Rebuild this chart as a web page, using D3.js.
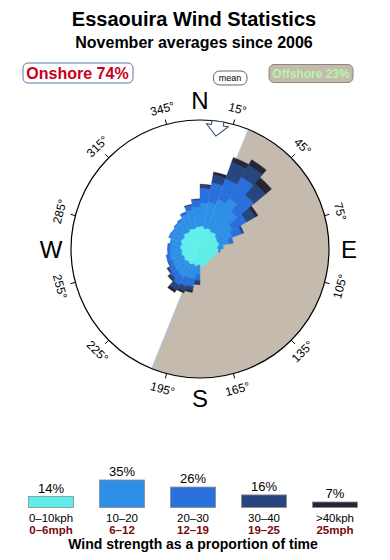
<!DOCTYPE html>
<html>
<head>
<meta charset="utf-8">
<script src="https://cdn.jsdelivr.net/npm/d3@7"></script>
<style>
  body { margin: 0; background: #fff; }
  svg { display: block; font-family: "Liberation Sans", Arial, Helvetica, sans-serif; }
</style>
</head>
<body>
<svg id="chart" width="390" height="560"></svg>
<script>
// Direction bins (centre bearing, degrees) and % of time per speed class
const directions = [5, 15, 25, 35, 45, 55, 65, 75, 85, 95, 105, 115, 125, 135, 145, 155, 165, 175,
    185, 195, 205, 215, 225, 235, 245, 255, 265, 275, 285, 295, 305, 315, 325, 335, 345, 355];
const speed0to10 = [0.70, 0.58, 0.64, 0.55, 0.60, 0.50, 0.47, 0.50, 0.42, 0.45, 0.33, 0.36, 0.28, 0.31, 0.27, 0.34, 0.36, 0.40,
    0.34, 0.40, 0.36, 0.42, 0.38, 0.45, 0.40, 0.47, 0.44, 0.52, 0.48, 0.55, 0.50, 0.60, 0.54, 0.62, 0.58, 0.66];
const speed10to20 = [2.08, 2.38, 3.03, 3.90, 2.50, 1.38, 1.09, 0.66, 0.29, 0.10, 0, 0, 0, 0, 0, 0, 0, 0,
    0.51, 0.80, 0.88, 0.96, 0.88, 0.75, 0.75, 0.75, 0.71, 0.63, 0.66, 0.82, 0.82, 0.85, 0.94, 1.16, 1.46, 1.68];
const speed20to30 = [2.06, 2.99, 3.64, 4.62, 3.41, 1.93, 1.05, 0.34, 0, 0, 0, 0, 0, 0, 0, 0, 0, 0,
    0.45, 0.72, 0.84, 0.87, 0.64, 0.52, 0.34, 0.34, 0.25, 0.24, 0.08, 0.09, 0.09, 0.09, 0.18, 0.30, 0.56, 0.83];
const speed30to40 = [0.49, 1.49, 3.92, 3.31, 3.05, 1.55, 0.24, 0, 0, 0, 0, 0, 0, 0, 0, 0, 0, 0,
    0.27, 0.42, 0.56, 0.69, 0.31, 0.20, 0.09, 0, 0, 0, 0, 0, 0, 0, 0, 0, 0.12, 0.13];
const speed40plus = [0.17, 0.60, 1.24, 1.57, 1.87, 0.51, 0, 0, 0, 0, 0, 0, 0, 0, 0, 0, 0, 0,
    0.09, 0.22, 0.24, 0.38, 0.11, 0, 0, 0, 0, 0, 0, 0, 0, 0, 0, 0, 0, 0];

const speedColors = ['#5eefeb', '#2e8fe7', '#2a70dc', '#27467f', '#232638'];
const legendPct = [14, 35, 26, 16, 7];
const kphLabels = ['0–10kph', '10–20', '20–30', '30–40', '>40kph'];
const mphLabels = ['0–6mph', '6–12', '12–19', '19–25', '25mph'];
const tickBearings = [15, 45, 75, 105, 135, 165, 195, 225, 255, 285, 315, 345];
const cardinals = [['N', 0], ['E', 90], ['S', 180], ['W', 270]];
const offshoreFrom = 22, offshoreTo = 202, meanBearing = 8;
const onshorePct = 74, offshorePct = 23;

const svg = d3.select('#chart');
const cx = 200, cy = 249, R = 129;
const rad = d => d * Math.PI / 180;

// Titles
svg.append('text').attr('x', 194).attr('y', 26).attr('text-anchor', 'middle')
    .style('font-size', '20px').style('font-weight', 'bold').text('Essaouira Wind Statistics');
svg.append('text').attr('x', 194).attr('y', 47.5).attr('text-anchor', 'middle')
    .style('font-size', '16px').style('font-weight', 'bold').text('November averages since 2006');

// Onshore / mean / offshore boxes
svg.append('rect').attr('x', 23).attr('y', 63).attr('width', 110).attr('height', 20).attr('rx', 5)
    .style('fill', '#fff').style('stroke', '#5a78a8');
svg.append('text').attr('x', 77.5).attr('y', 79).attr('text-anchor', 'middle')
    .style('font-size', '16px').style('font-weight', 'bold').style('fill', '#c8001c')
    .text('Onshore ' + onshorePct + '%');
svg.append('rect').attr('x', 213.5).attr('y', 71).attr('width', 33.5).attr('height', 14).attr('rx', 6)
    .style('fill', '#fff').style('stroke', '#666');
svg.append('text').attr('x', 230).attr('y', 81).attr('text-anchor', 'middle')
    .style('font-size', '9px').text('mean');
svg.append('rect').attr('x', 269).attr('y', 64.5).attr('width', 84).attr('height', 18).attr('rx', 5)
    .style('fill', '#c4baae').style('stroke', '#8c867e');
svg.append('text').attr('x', 311).attr('y', 78).attr('text-anchor', 'middle')
    .style('font-size', '12px').style('font-weight', 'bold').style('fill', '#b8f5a8')
    .text('Offshore ' + offshorePct + '%');

// Rose
const rose = svg.append('g').attr('transform', 'translate(' + cx + ',' + cy + ')');
rose.append('circle').attr('r', R).style('fill', '#fff');
rose.append('path')
    .attr('d', d3.arc().innerRadius(0).outerRadius(R).startAngle(rad(offshoreFrom)).endAngle(rad(offshoreTo))())
    .style('fill', '#c4baae');
rose.append('line')
    .attr('x1', R * Math.sin(rad(offshoreFrom))).attr('y1', -R * Math.cos(rad(offshoreFrom)))
    .attr('x2', R * Math.sin(rad(offshoreTo))).attr('y2', -R * Math.cos(rad(offshoreTo)))
    .style('stroke', '#a6cbeb').style('stroke-width', 1);

const series = [speed0to10, speed10to20, speed20to30, speed30to40, speed40plus];
const rScale = d3.scaleSqrt().domain([0, 14]).range([0, 103.3]);
const wedges = [];
directions.forEach((dir, i) => {
    let cum = 0;
    series.forEach((s, k) => {
        const v = s[i];
        if (v > 0) wedges.push({ dir, k, inner: cum, outer: cum + v });
        cum += v;
    });
});
const wedgeArc = d3.arc()
    .innerRadius(d => rScale(d.inner))
    .outerRadius(d => rScale(d.outer))
    .startAngle(d => rad(d.dir - 5))
    .endAngle(d => rad(d.dir + 5));
rose.append('g').selectAll('path').data(wedges).join('path')
    .attr('d', wedgeArc)
    .style('fill', d => speedColors[d.k])
    .style('stroke', d => speedColors[d.k])
    .style('stroke-width', 0.4);

rose.append('circle').attr('r', R).style('fill', 'none').style('stroke', '#000').style('stroke-width', 1.2);

// Ticks and degree labels
rose.selectAll('.tick').data(tickBearings).join('line').attr('class', 'tick')
    .attr('x1', d => R * Math.sin(rad(d))).attr('y1', d => -R * Math.cos(rad(d)))
    .attr('x2', d => (R + 5) * Math.sin(rad(d))).attr('y2', d => -(R + 5) * Math.cos(rad(d)))
    .style('stroke', '#000').style('stroke-width', 1);
rose.selectAll('.deg').data(tickBearings).join('text').attr('class', 'deg')
    .attr('transform', d => {
        const rot = d < 90 ? d : d > 270 ? d - 360 : d - 180;
        return 'translate(' + (145 * Math.sin(rad(d))) + ',' + (-145 * Math.cos(rad(d))) + ') rotate(' + rot + ')';
    })
    .attr('text-anchor', 'middle').attr('dominant-baseline', 'central')
    .style('font-size', '12px').text(d => d + '°');
rose.selectAll('.card').data(cardinals).join('text').attr('class', 'card')
    .attr('x', d => 149 * Math.sin(rad(d[1]))).attr('y', d => -149 * Math.cos(rad(d[1])))
    .attr('text-anchor', 'middle').attr('dominant-baseline', 'central')
    .style('font-size', '24px').text(d => d[0]);

// Mean direction marker (block arrow pointing inward)
rose.append('path')
    .attr('transform', 'rotate(' + meanBearing + ') translate(0,' + (-R) + ')')
    .attr('d', 'M-6,0 L6,0 L6,4 L11,4 L0,15 L-11,4 L-6,4 Z')
    .style('fill', '#fff').style('stroke', '#2c4466').style('stroke-width', 1);

// Legend
const legendX = d3.scalePoint().domain(d3.range(legendPct.length)).range([51, 335]);
const legendH = d3.scaleLinear().domain([0, 35]).range([0, 27.5]);
const base = 507.5, barW = 45;
const legend = svg.append('g');
legend.selectAll('rect').data(legendPct).join('rect')
    .attr('x', (d, i) => legendX(i) - barW / 2).attr('y', d => base - legendH(d))
    .attr('width', barW).attr('height', d => legendH(d))
    .style('fill', (d, i) => speedColors[i]).style('stroke', '#8a8a8a').style('stroke-width', 0.8);
legend.selectAll('.pct').data(legendPct).join('text').attr('class', 'pct')
    .attr('x', (d, i) => legendX(i)).attr('y', d => base - legendH(d) - 4)
    .attr('text-anchor', 'middle').style('font-size', '13px').text(d => d + '%');
legend.selectAll('.kph').data(kphLabels).join('text').attr('class', 'kph')
    .attr('x', (d, i) => legendX(i)).attr('y', 522)
    .attr('text-anchor', 'middle').style('font-size', '11.5px').text(d => d);
legend.selectAll('.mph').data(mphLabels).join('text').attr('class', 'mph')
    .attr('x', (d, i) => legendX(i)).attr('y', 533.5)
    .attr('text-anchor', 'middle').style('font-size', '11.5px').style('font-weight', 'bold')
    .style('fill', '#7a0a0a').text(d => d);
svg.append('text').attr('x', 193).attr('y', 549).attr('text-anchor', 'middle')
    .style('font-size', '14px').style('font-weight', 'bold').text('Wind strength as a proportion of time');
</script>
</body>
</html>
